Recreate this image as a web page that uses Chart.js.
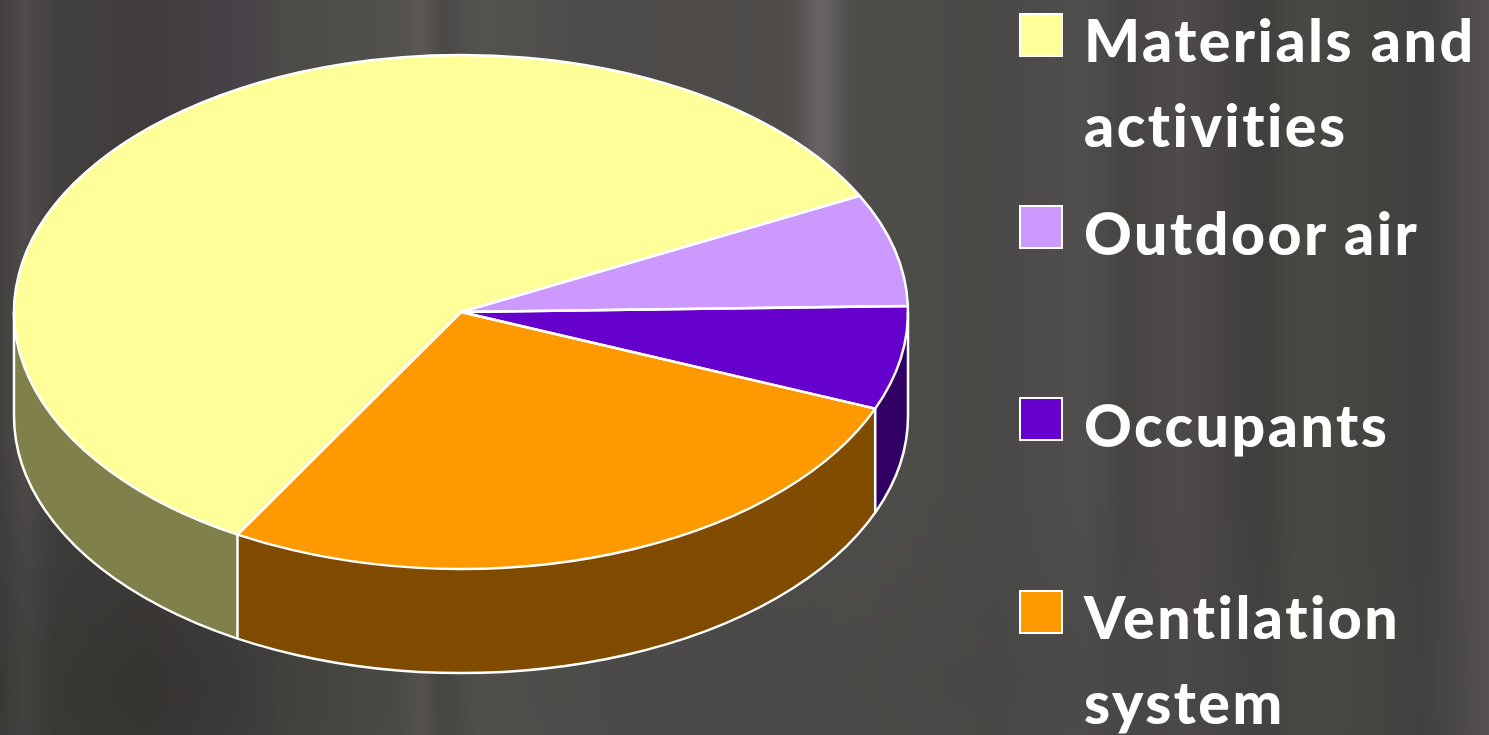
<!DOCTYPE html>
<html lang="en">
<head>
<meta charset="UTF-8">
<title>Indoor air pollution sources</title>
<script src="https://cdn.jsdelivr.net/npm/chart.js"></script>
<style>
    html, body { margin: 0; padding: 0; width: 1489px; height: 735px; overflow: hidden; background: #4a4846; }
    #bg {
        position: absolute; left: -20px; top: -20px; width: 1529px; height: 775px;
        filter: blur(3px);
        background:
            linear-gradient(90deg, rgba(110,104,108,0) 810px, rgba(110,104,108,0.9) 842px, rgba(110,104,108,0) 870px) 0 0 / 100% 230px no-repeat,
            radial-gradient(ellipse 420px 260px at 170px 710px, rgba(44,44,38,0.5), rgba(44,44,38,0)),
            radial-gradient(ellipse 520px 200px at 1020px 700px, rgba(72,72,70,0.8), rgba(72,72,70,0)),
            linear-gradient(90deg,
                #413f3e 20px, #4f4c4b 45px, #42403f 75px, #403c3c 170px, #48434a 270px, #4c4b48 305px,
                #52514e 420px, #5c5856 442px, #4b4947 462px, #555350 500px, #4d4b49 620px, #4f4c4a 800px,
                #4e4d4a 880px, #4a4947 1020px, #514f4d 1105px, #464442 1145px, #4f4a4a 1200px,
                #3f3e3c 1282px, #484844 1320px, #41403e 1445px, #565252 1509px);
    }
    #pie { position: absolute; left: 0; top: 0; }
    .swatch { position: absolute; left: 1019px; width: 40px; height: 40px; border: 2px solid #fff; }
    .label {
        position: absolute; left: 1084px; color: #fff; white-space: pre;
        font: 900 59px/85px Lato, sans-serif; letter-spacing: 2.5px;
    }
</style>
</head>
<body>
<div id="bg"></div>
<canvas id="pie" width="1489" height="735"></canvas>

<script>
// values, percent of the whole
const categories = [
    ['Materials and', 'activities'],
    ['Outdoor air'],
    ['Occupants'],
    ['Ventilation', 'system']
];
const shares = [59.2, 7.1, 6.5, 27.2];
const topColors = ['#FFFF99', '#CC99FF', '#6600CC', '#FF9900'];
const sideColors = ['#80804C', '#664C80', '#330066', '#804C00'];

// layout of the tilted pie on the page
const pieX = 461, pieY = 312, radiusX = 447, radiusY = 257, depth = 104;
const swatchTops = [13, 205, 397, 590];
const labelTops = [-3, 190, 382, 574];

function tilt(ctx, arc, drop) {
    ctx.translate(pieX, pieY + drop);
    ctx.scale(radiusX / arc.outerRadius, radiusY / arc.outerRadius);
    ctx.translate(-arc.x, -arc.y);
}

// point on the rim for a given arc angle
function rimPoint(angle, drop) {
    return [pieX + radiusX * Math.cos(angle), pieY + drop + radiusY * Math.sin(angle)];
}

const pie3d = {
    id: 'pie3d',
    beforeDatasetsDraw(chart) {
        const ctx = chart.ctx;
        const arcs = chart.getDatasetMeta(0).data;
        // stack the slices downwards in the dark colours to make the wall
        for (let d = depth; d > 0; d--) {
            ctx.save();
            tilt(ctx, arcs[0], d);
            arcs.forEach((arc, i) => {
                const side = Object.create(arc);
                side.options = Object.assign({}, arc.options, { backgroundColor: sideColors[i] });
                side.draw(ctx);
            });
            ctx.restore();
        }
        // the real slices get squashed too, undone in afterDatasetsDraw
        ctx.save();
        tilt(ctx, arcs[0], 0);
    },
    afterDatasetsDraw(chart) {
        const ctx = chart.ctx;
        const arcs = chart.getDatasetMeta(0).data;
        ctx.restore();

        ctx.strokeStyle = '#fff';
        ctx.lineWidth = 2.5;
        ctx.lineJoin = 'round';

        // outer wall outline
        ctx.beginPath();
        ctx.moveTo(pieX + radiusX, pieY);
        ctx.lineTo(pieX + radiusX, pieY + depth);
        ctx.ellipse(pieX, pieY + depth, radiusX, radiusY, 0, 0, Math.PI);
        ctx.lineTo(pieX - radiusX, pieY);
        ctx.stroke();

        // wall edges where a slice boundary faces the viewer
        arcs.forEach(arc => {
            if (Math.sin(arc.startAngle) > 0) {
                const top = rimPoint(arc.startAngle, 0);
                ctx.beginPath();
                ctx.moveTo(top[0], top[1]);
                ctx.lineTo(top[0], top[1] + depth);
                ctx.stroke();
            }
        });

        // slice outlines, path built tilted but stroked flat so the line keeps its width
        arcs.forEach(arc => {
            ctx.save();
            tilt(ctx, arc, 0);
            ctx.beginPath();
            ctx.moveTo(arc.x, arc.y);
            ctx.arc(arc.x, arc.y, arc.outerRadius, arc.startAngle, arc.endAngle);
            ctx.closePath();
            ctx.restore();
            ctx.stroke();
        });
    }
};

new Chart(document.getElementById('pie'), {
    type: 'pie',
    data: {
        labels: categories,
        datasets: [{
            data: shares,
            backgroundColor: topColors,
            borderWidth: 0
        }]
    },
    options: {
        responsive: false,
        animation: false,
        rotation: 210,
        events: [],
        layout: { padding: 0 },
        plugins: { legend: { display: false }, tooltip: { enabled: false } }
    },
    plugins: [pie3d]
});

// legend
categories.forEach((lines, i) => {
    const swatch = document.createElement('div');
    swatch.className = 'swatch';
    swatch.style.top = swatchTops[i] + 'px';
    swatch.style.background = topColors[i];
    document.body.appendChild(swatch);

    const label = document.createElement('div');
    label.className = 'label';
    label.style.top = labelTops[i] + 'px';
    label.textContent = lines.join('\n');
    document.body.appendChild(label);
});
</script>
</body>
</html>
